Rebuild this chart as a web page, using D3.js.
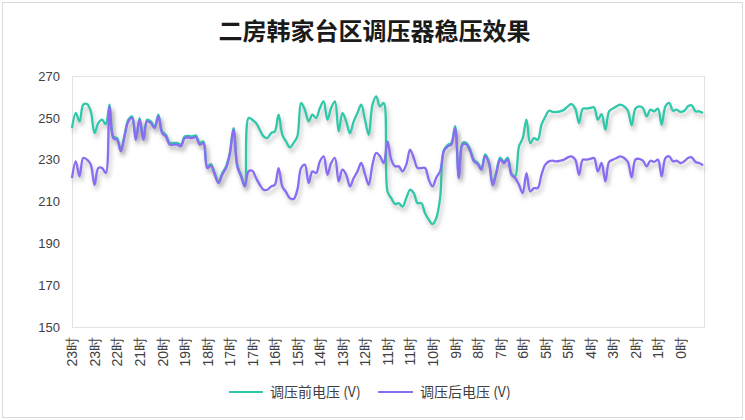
<!DOCTYPE html>
<html><head><meta charset="utf-8">
<script src="https://cdn.jsdelivr.net/npm/d3@7"></script>
<style>
html,body{margin:0;padding:0;background:#fff;}
svg{display:block;}
</style></head>
<body>
<svg id="chart" width="745" height="420"></svg>
<script>
const title = "二房韩家台区调压器稳压效果";
const seriesNames = ["调压前电压 (V)", "调压后电压 (V)"];
const tickLabels = ["23时","23时","22时","21时","20时","19时","18时","17时","17时","16时","15时","14时","13时","12时","11时","11时","10时","9时","8时","7时","6时","5时","5时","4时","3时","2时","1时","0时"];
const labelEvery = 6;
const yTicks = [150,170,190,210,230,250,270];

const beforeV = [245,252.3,248.3,256.3,256.6,253.1,242.7,247.5,249.1,247,256.3,241.1,240.3,234.8,241.9,249.1,250.7,240.3,249.9,240.3,
249.1,248.3,245.9,251.5,243.5,241.9,238,238,238,237.2,241.1,241.4,241.1,241.6,238,238.7,226.8,227.9,223.6,219.6,
223.6,226.8,233.2,245.1,227.6,222.8,218,249.9,249.1,247.5,244.3,241.1,240.3,242.7,243.5,251.5,241.9,238.7,235.9,238,
241.1,257.1,253.9,248.3,251.5,249.9,254.7,257.9,249.1,254.7,257.9,243.5,252.3,248.3,242.7,248.3,252.3,256.3,249.1,241.9,
256.3,260.3,255.5,257.1,214.8,211.6,208.8,209.2,207.6,211.6,215.6,214,209.2,209.2,204.4,201.3,199.2,202.1,211.6,234.5,
237,238,246,222,238,238,235,230,228.5,226,232.5,229,218.5,224.5,231,229,231,223.5,222,236.3,
240.3,249.1,237.9,240.3,239.5,246.7,250.5,253.4,252.8,252.8,253.1,253.9,255.5,256.6,254.4,247.5,254.4,254.4,254.7,255,
249.1,251.8,244.3,253.1,254.4,255.5,256.3,255.5,253.4,246.4,254.4,255.5,254.7,250.7,253.9,253.1,254.4,246.7,255.5,257.1,
253.4,253.9,252.8,253.4,255.5,256,253.1,253.1,252.3];

const afterV = [221.2,229.2,222,230.8,230,227.6,218,226,226,223.6,255.5,240.3,239.5,234,241.1,248.3,250,239.5,249.1,239.5,
248.3,247.5,245.1,250.7,242.7,241.1,237.2,237.2,237.2,236.4,240.3,240.6,240.3,240.8,237.2,237.9,226,227.1,222.8,218.8,
222.8,226,232.4,244.3,226.8,222,217.2,224.4,224.7,221.2,218,215.6,215.6,217.2,218,226,217.2,214.5,211.6,211.2,
215.6,226,227.6,218.8,224.4,223.6,229.2,231.6,222.8,228.4,230.8,219.6,225.2,222.8,217.2,221.2,224.4,228.4,223.1,218,
227.6,233.2,231.6,228.4,238.7,230,226.8,226.8,224.4,227.6,234.8,230.8,226,226,226,220.4,217.2,221.5,224.4,234,
236.3,237.2,245.1,221.2,237.2,237.2,234,229.2,227.9,225.2,231.6,228.4,217.7,223.6,230,228.4,230,222.8,221.2,218,
214,223.6,214.8,216.4,216.4,222.8,227.6,229.2,229.5,229.2,229.5,230,231.1,231.6,230,222.8,230,230,230.4,230.8,
224.4,228.4,219.6,228.9,230,230.8,231.6,230.8,228.9,221.5,230,230.4,229.5,226.8,229.5,228.9,230,222,230.8,231.6,
229.2,229.5,228.4,229.2,230.8,231.1,228.9,228.4,227.3];

const colors = ["#2ec8aa", "#8a6cf2"];

const svg = d3.select("#chart");
const W = 745, H = 420;
const plot = {left: 72, right: 704, top: 76, bottom: 327};

svg.append("rect").attr("x",2.5).attr("y",2.5).attr("width",W-5).attr("height",H-5)
  .attr("fill","#fff").attr("stroke","#d9d9d9");

const defs = svg.append("defs");
const f = defs.append("filter").attr("id","shadow").attr("x","-5%").attr("y","-20%").attr("width","110%").attr("height","150%");
f.append("feDropShadow").attr("dx",2).attr("dy",4).attr("stdDeviation",2.2)
  .attr("flood-color","#7f7f7f").attr("flood-opacity",0.5);

svg.append("text").attr("x",W/2+2).attr("y",40).attr("text-anchor","middle")
  .attr("font-family","'Noto Sans CJK SC', sans-serif").attr("font-weight","bold")
  .attr("font-size",24).attr("fill","#1a1a1a").text(title);

const n = beforeV.length;
const x = d3.scaleLinear().domain([0, n-1]).range([plot.left, plot.right-1]);
const y = d3.scaleLinear().domain([150, 270]).range([plot.bottom, plot.top]);

svg.append("rect").attr("x",plot.left+0.5).attr("y",plot.top+0.5)
  .attr("width",plot.right-plot.left).attr("height",plot.bottom-plot.top)
  .attr("fill","none").attr("stroke","#e3e3e3");

const yAxis = svg.append("g").attr("transform",`translate(${plot.left},0)`)
  .call(d3.axisLeft(y).tickValues(yTicks).tickSize(0).tickPadding(12).tickFormat(d3.format("d")));
yAxis.select(".domain").remove();
yAxis.selectAll("text").attr("font-family","'Liberation Sans', Arial, sans-serif").attr("font-size",13).attr("fill","#404040");

const tickIdx = tickLabels.map((_, i) => i * labelEvery);
const xAxis = svg.append("g").attr("transform",`translate(0,${plot.bottom})`)
  .call(d3.axisBottom(x).tickValues(tickIdx).tickSize(0).tickPadding(0)
     .tickFormat((d, i) => tickLabels[i]));
xAxis.select(".domain").remove();
xAxis.selectAll("text")
  .attr("font-family","'Liberation Sans', Arial, sans-serif").attr("font-size",14).attr("fill","#404040")
  .attr("transform","rotate(-90)").attr("text-anchor","end")
  .attr("x",-10).attr("y",0).attr("dy","0.35em");

const line = d3.line().x((d,i)=>x(i)).y(d=>y(d)).curve(d3.curveCatmullRom.alpha(0.5));
[beforeV, afterV].forEach((s, k) => {
  svg.append("path").datum(s).attr("d", line).attr("fill","none")
    .attr("stroke", colors[k]).attr("stroke-width",2.3).attr("stroke-linejoin","round")
    .attr("filter","url(#shadow)");
});

const legend = svg.append("g").attr("font-family","'Noto Sans CJK SC', sans-serif").attr("font-size",14).attr("fill","#404040");
const legItems = [{x1:229, x2:263, tx:270}, {x1:378, x2:413, tx:420}];
legItems.forEach((it, k) => {
  legend.append("line").attr("x1",it.x1).attr("x2",it.x2).attr("y1",392).attr("y2",392)
    .attr("stroke",colors[k]).attr("stroke-width",2.2);
  legend.append("text").attr("x",it.tx).attr("y",392).attr("dy","0.35em").text(seriesNames[k]);
});
</script>
</body></html>
